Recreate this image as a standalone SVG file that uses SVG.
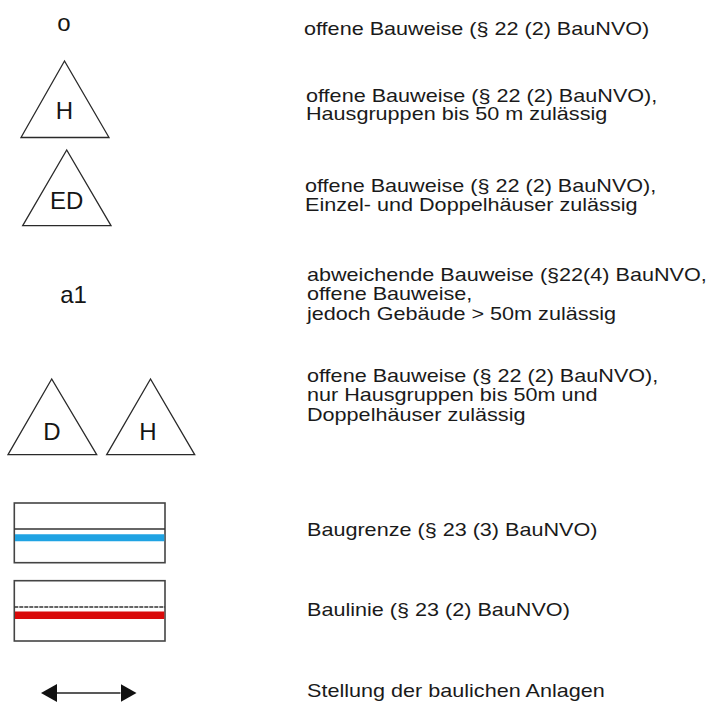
<svg xmlns="http://www.w3.org/2000/svg" width="712" height="707" viewBox="0 0 712 707">
<style>
.bg{fill:#ffffff}
.sym{font-family:"Liberation Sans",Arial,sans-serif;font-size:24px;fill:#151515;text-anchor:middle}
.lbl{font-family:"Liberation Sans",Arial,sans-serif;font-size:18px;fill:#1a1a1a}
.tri{fill:none;stroke:#2a2a2a;stroke-width:1.3;stroke-linejoin:miter}
.box{fill:#ffffff;stroke:#444444;stroke-width:1.6}
.thin{stroke:#333333;stroke-width:1.3;fill:none}
</style>
<defs>
<marker id="ah" viewBox="0 0 16 18" refX="0" refY="9" markerWidth="16" markerHeight="18" markerUnits="userSpaceOnUse" orient="auto-start-reverse">
<path d="M0,0 L16,9 L0,18 Z" fill="#111111"/>
</marker>
</defs>
<rect class="bg" x="0" y="0" width="712" height="707"/>

<g id="sym-o"><text class="sym" x="64" y="31">o</text></g>
<g id="label-o"><text class="lbl" transform="translate(304,35) scale(1.2,1)">offene Bauweise (§ 22 (2) BauNVO)</text></g>

<g id="sym-H"><polygon class="tri" points="64.5,61 21,137.5 109,137.5"/><text class="sym" x="64.5" y="119">H</text></g>
<g id="label-H"><text class="lbl" transform="translate(306,101.5) scale(1.2,1)"><tspan x="0" y="0">offene Bauweise (§ 22 (2) BauNVO),</tspan><tspan x="0" y="19">Hausgruppen bis 50 m zulässig</tspan></text></g>

<g id="sym-ED"><polygon class="tri" points="66.7,150 22.7,225.7 111,225.7"/><text class="sym" x="66.7" y="209">ED</text></g>
<g id="label-ED"><text class="lbl" transform="translate(305,192) scale(1.2,1)"><tspan x="0" y="0">offene Bauweise (§ 22 (2) BauNVO),</tspan><tspan x="0" y="19">Einzel- und Doppelhäuser zulässig</tspan></text></g>

<g id="sym-a1"><text class="sym" x="73.5" y="303">a1</text></g>
<g id="label-a1"><text class="lbl" transform="translate(307,281) scale(1.2,1)"><tspan x="0" y="0">abweichende Bauweise (§22(4) BauNVO,</tspan><tspan x="0" y="19.5">offene Bauweise,</tspan><tspan x="0" y="39">jedoch Gebäude &gt; 50m zulässig</tspan></text></g>

<g id="sym-DH"><polygon class="tri" points="51.7,379 8,454.7 96.7,454.7"/><text class="sym" x="52" y="440">D</text><polygon class="tri" points="150.5,379 106.7,454.7 194.7,454.7"/><text class="sym" x="148" y="440">H</text></g>
<g id="label-DH"><text class="lbl" transform="translate(307,382) scale(1.2,1)"><tspan x="0" y="0">offene Bauweise (§ 22 (2) BauNVO),</tspan><tspan x="0" y="19.5">nur Hausgruppen bis 50m und</tspan><tspan x="0" y="39">Doppelhäuser zulässig</tspan></text></g>

<g id="sym-baugrenze"><rect class="box" x="14.3" y="503" width="150.7" height="59.7"/><line class="thin" x1="14.3" y1="529" x2="165" y2="529"/><line x1="15" y1="537.8" x2="164.3" y2="537.8" stroke="#1fa3e3" stroke-width="7"/></g>
<g id="label-baugrenze"><text class="lbl" transform="translate(307,536) scale(1.2,1)">Baugrenze (§ 23 (3) BauNVO)</text></g>

<g id="sym-baulinie"><rect class="box" x="14.3" y="580.7" width="150.7" height="60.3"/><line class="thin" x1="14.3" y1="607" x2="165" y2="607" stroke-dasharray="4 1"/><line x1="15" y1="615.3" x2="164.3" y2="615.3" stroke="#d90a0a" stroke-width="7.5"/></g>
<g id="label-baulinie"><text class="lbl" transform="translate(307,616) scale(1.2,1)">Baulinie (§ 23 (2) BauNVO)</text></g>

<g id="connectors"><line x1="57" y1="693" x2="120.5" y2="693" stroke="#222222" stroke-width="1.5" marker-start="url(#ah)" marker-end="url(#ah)"/></g>
<g id="label-stellung"><text class="lbl" transform="translate(307,697) scale(1.2,1)">Stellung der baulichen Anlagen</text></g>
</svg>
